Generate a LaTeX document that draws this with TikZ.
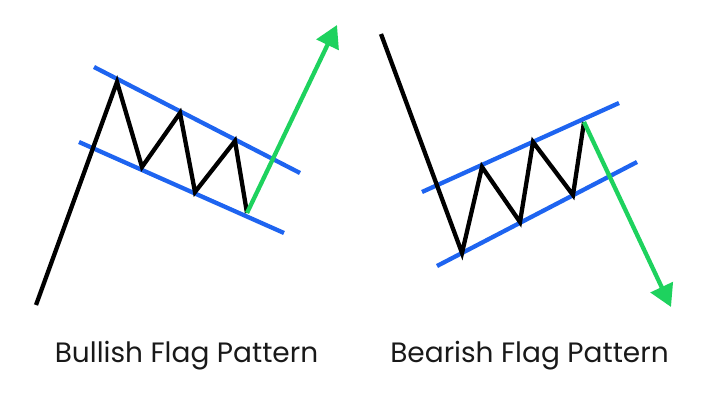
\documentclass[tikz,border=0pt]{standalone}
\usepackage{fontspec}
\setmainfont{Poppins}
\usetikzlibrary{arrows.meta}
\definecolor{flagblue}{HTML}{1E64F0}
\definecolor{flaggreen}{HTML}{1ED25E}
\begin{document}
\begin{tikzpicture}[x=1pt,y=-1pt,
  price/.style={line width=4.3pt,black,line join=miter,line cap=butt},
  chan/.style={line width=4.3pt,flagblue},
  breakout/.style={line width=4.3pt,flaggreen,-{Triangle[length=22pt,width=24pt]}},
  caption/.style={font=\fontsize{28}{32}\selectfont,text=black!90,anchor=base}]
\useasboundingbox (0,0) rectangle (711,401);
% Bullish
\coordinate (b0) at (36,305);
\coordinate (b1) at (117,82);
\coordinate (b2) at (142,167);
\coordinate (b3) at (180,113);
\coordinate (b4) at (195,192);
\coordinate (b5) at (235,141);
\coordinate (b6) at (247,213);
\coordinate (bt) at (337,25);
\coordinate (bu1) at (94,67);
\coordinate (bu2) at (300,173);
\coordinate (bl1) at (79,142);
\coordinate (bl2) at (284,233);
\draw[chan] (bu1) -- (bu2);
\draw[chan] (bl1) -- (bl2);
\draw[price] (b0) -- (b1) -- (b2) -- (b3) -- (b4) -- (b5) -- (b6);
\draw[breakout] (b6) -- (bt);
% Bearish
\coordinate (s0) at (381,34);
\coordinate (s1) at (462,253);
\coordinate (s2) at (482,167);
\coordinate (s3) at (520,222);
\coordinate (s4) at (533,142);
\coordinate (s5) at (573,195);
\coordinate (s6) at (584,122);
\coordinate (st) at (671,307);
\coordinate (su1) at (422,192);
\coordinate (su2) at (619,103);
\coordinate (sl1) at (437,266);
\coordinate (sl2) at (637,162);
\draw[chan] (su1) -- (su2);
\draw[chan] (sl1) -- (sl2);
\draw[price] (s0) -- (s1) -- (s2) -- (s3) -- (s4) -- (s5) -- (s6);
\draw[breakout] (s6) -- (st);
% captions
\node[caption] (bullcap) at (186.5,362) {Bullish Flag Pattern};
\node[caption] (bearcap) at (529.5,362) {Bearish Flag Pattern};
\end{tikzpicture}
\end{document}
